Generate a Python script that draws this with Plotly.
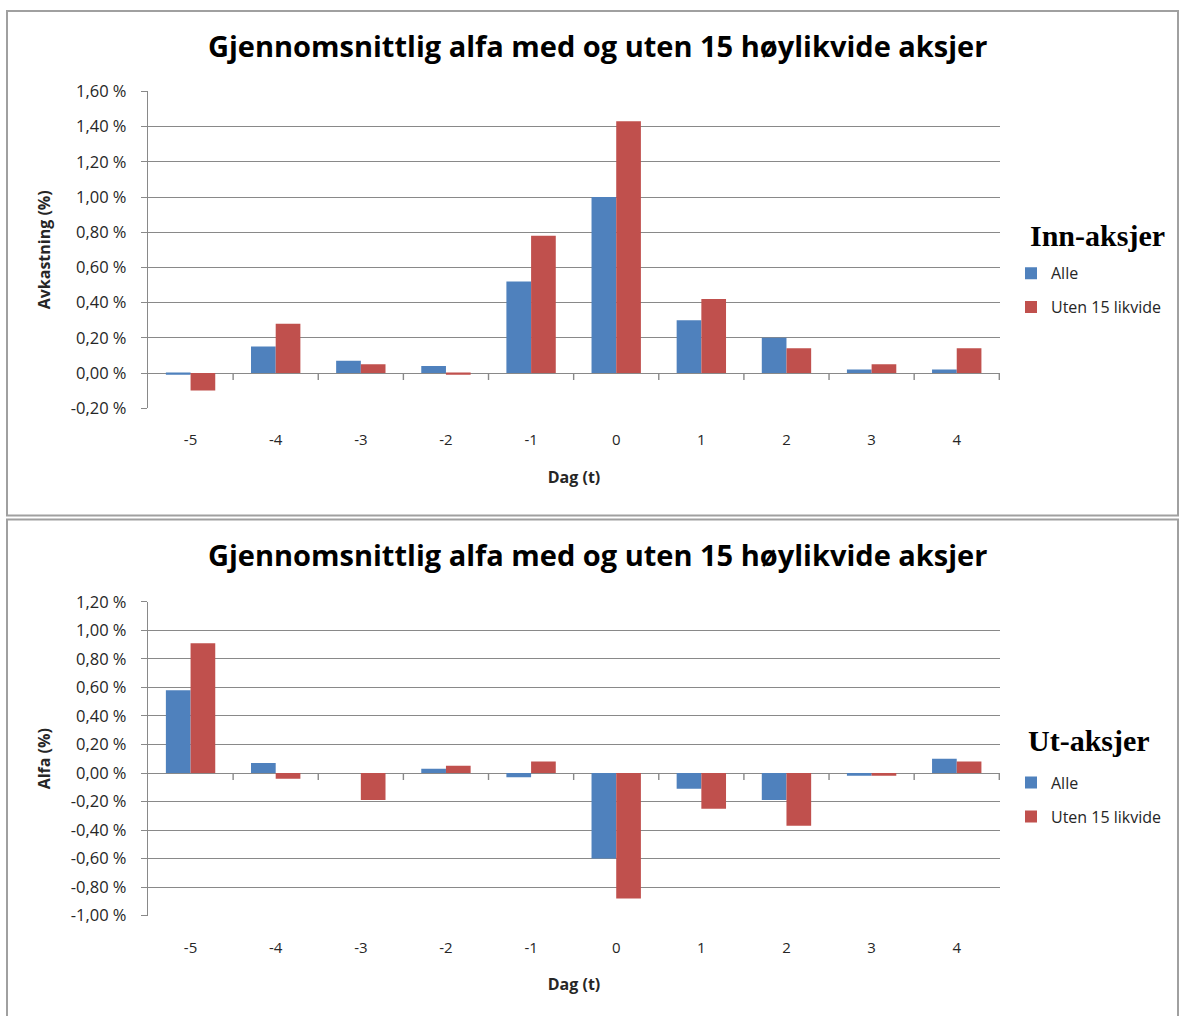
import plotly.graph_objects as go

# Event days and average alpha (in percent) per series
days = ["-5", "-4", "-3", "-2", "-1", "0", "1", "2", "3", "4"]

inn_alle = [-0.01, 0.15, 0.07, 0.04, 0.52, 1.00, 0.30, 0.20, 0.02, 0.02]
inn_uten = [-0.10, 0.28, 0.05, -0.01, 0.78, 1.43, 0.42, 0.14, 0.05, 0.14]

ut_alle = [0.58, 0.07, 0.00, 0.03, -0.03, -0.60, -0.11, -0.19, -0.02, 0.10]
ut_uten = [0.91, -0.04, -0.19, 0.05, 0.08, -0.88, -0.25, -0.37, -0.02, 0.08]

inn_tickvals = [-0.2, 0.0, 0.2, 0.4, 0.6, 0.8, 1.0, 1.2, 1.4, 1.6]
inn_ticktext = ["-0,20 %", "0,00 %", "0,20 %", "0,40 %", "0,60 %", "0,80 %",
                "1,00 %", "1,20 %", "1,40 %", "1,60 %"]
ut_tickvals = [-1.0, -0.8, -0.6, -0.4, -0.2, 0.0, 0.2, 0.4, 0.6, 0.8, 1.0, 1.2]
ut_ticktext = ["-1,00 %", "-0,80 %", "-0,60 %", "-0,40 %", "-0,20 %", "0,00 %",
               "0,20 %", "0,40 %", "0,60 %", "0,80 %", "1,00 %", "1,20 %"]

title_text = "Gjennomsnittlig alfa med og uten 15 høylikvide aksjer"

BLUE = "#4F81BD"
RED = "#C0504D"
GRID = "#898989"
TEXT = "#262626"
FONT = "Open Sans"
SERIF = "Liberation Serif"

W, H = 1180, 1016
PAGE_TOP, PAGE_H = 8, 1000  # drawing area offset/height on the page


def px_x(p):
    return p / W


def px_y(p):
    return 1 - (p - PAGE_TOP) / PAGE_H


fig = go.Figure()

# Top chart: Inn-aksjer
fig.add_trace(go.Bar(x=days, y=inn_alle, name="Alle", marker_color=BLUE,
                     xaxis="x", yaxis="y", legend="legend", legendgroup="a"))
fig.add_trace(go.Bar(x=days, y=inn_uten, name="Uten 15 likvide", marker_color=RED,
                     xaxis="x", yaxis="y", legend="legend", legendgroup="b"))

# Bottom chart: Ut-aksjer
fig.add_trace(go.Bar(x=days, y=ut_alle, name="Alle", marker_color=BLUE,
                     xaxis="x2", yaxis="y2", legend="legend2", legendgroup="c"))
fig.add_trace(go.Bar(x=days, y=ut_uten, name="Uten 15 likvide", marker_color=RED,
                     xaxis="x2", yaxis="y2", legend="legend2", legendgroup="d"))

fig.update_traces(marker_line_width=0, hoverinfo="x+y")

x_dom = [px_x(148), px_x(1000)]

xaxis_common = dict(
    type="category", domain=x_dom, showgrid=False, showline=False, zeroline=False,
    ticks="", ticklabelstandoff=21,
    tickfont=dict(family=FONT, size=15, color=TEXT),
    title_font=dict(family=FONT, size=16, color=TEXT),
    title_standoff=23,
)
yaxis_common = dict(
    showgrid=True, gridcolor=GRID, gridwidth=1.4,
    zeroline=True, zerolinecolor=GRID, zerolinewidth=1.4,
    showline=True, linecolor=GRID, linewidth=1.4,
    ticks="outside", ticklen=6, tickcolor=GRID, tickwidth=1.4,
    ticklabelstandoff=11,
    tickfont=dict(family=FONT, size=16.5, color=TEXT),
    title_font=dict(family=FONT, size=16, color=TEXT),
    title_standoff=16,
)

legend_common = dict(
    xanchor="left", yanchor="top",
    font=dict(family=FONT, size=16, color=TEXT),
    traceorder="grouped", tracegroupgap=10, itemwidth=30,
    bgcolor="rgba(0,0,0,0)",
)

fig.update_layout(
    width=W, height=H,
    margin=dict(l=0, r=0, t=0, b=0),
    paper_bgcolor="white", plot_bgcolor="white",
    barmode="group", bargap=0.42, bargroupgap=0.0,
    xaxis=dict(**xaxis_common, anchor="y", title_text="<b>Dag (t)</b>"),
    yaxis=dict(**yaxis_common, anchor="x", domain=[px_y(407), px_y(88)],
               range=[-0.2, 1.6], tickvals=inn_tickvals, ticktext=inn_ticktext,
               title_text="<b>Avkastning (%)</b>"),
    xaxis2=dict(**xaxis_common, anchor="y2", title_text="<b>Dag (t)</b>"),
    yaxis2=dict(**yaxis_common, anchor="x2", domain=[px_y(918), px_y(602)],
                range=[-1.0, 1.2], tickvals=ut_tickvals, ticktext=ut_ticktext,
                title_text="<b>Alfa (%)</b>"),
    legend=dict(**legend_common, x=px_x(1011), y=px_y(254)),
    legend2=dict(**legend_common, x=px_x(1011), y=px_y(767)),
)

# Chart titles
for yc in (42, 554):
    fig.add_annotation(
        text=f"<b>{title_text}</b>", x=px_x(597), y=px_y(yc),
        xref="paper", yref="paper", xanchor="center", yanchor="middle",
        showarrow=False, font=dict(family=FONT, size=29, color="#000000"),
    )

# Legend headings
for label, xl, yc in (("Inn-aksjer", 1028, 233), ("Ut-aksjer", 1026, 742)):
    fig.add_annotation(
        text=f"<b>{label}</b>", x=px_x(xl), y=px_y(yc),
        xref="paper", yref="paper", xanchor="left", yanchor="middle",
        showarrow=False, font=dict(family=SERIF, size=30, color="#000000"),
    )

# Chart frames
frame = dict(type="rect", xref="paper", yref="paper",
             line=dict(color="#a0a0a0", width=2), fillcolor="rgba(0,0,0,0)", layer="below")
fig.add_shape(**frame, x0=px_x(7), x1=px_x(1178), y0=px_y(515), y1=px_y(7))
fig.add_shape(**frame, x0=px_x(7), x1=px_x(1178), y0=px_y(1040), y1=px_y(519))

# Category separator ticks hanging from the zero line
for xr, yr in (("x", "y"), ("x2", "y2")):
    for i in range(len(days)):
        fig.add_shape(type="line", xref=xr, yref=yr, ysizemode="pixel", yanchor=0,
                      x0=i + 0.5, x1=i + 0.5, y0=0, y1=-7,
                      line=dict(color=GRID, width=1.4))

fig.write_html("out.html")
